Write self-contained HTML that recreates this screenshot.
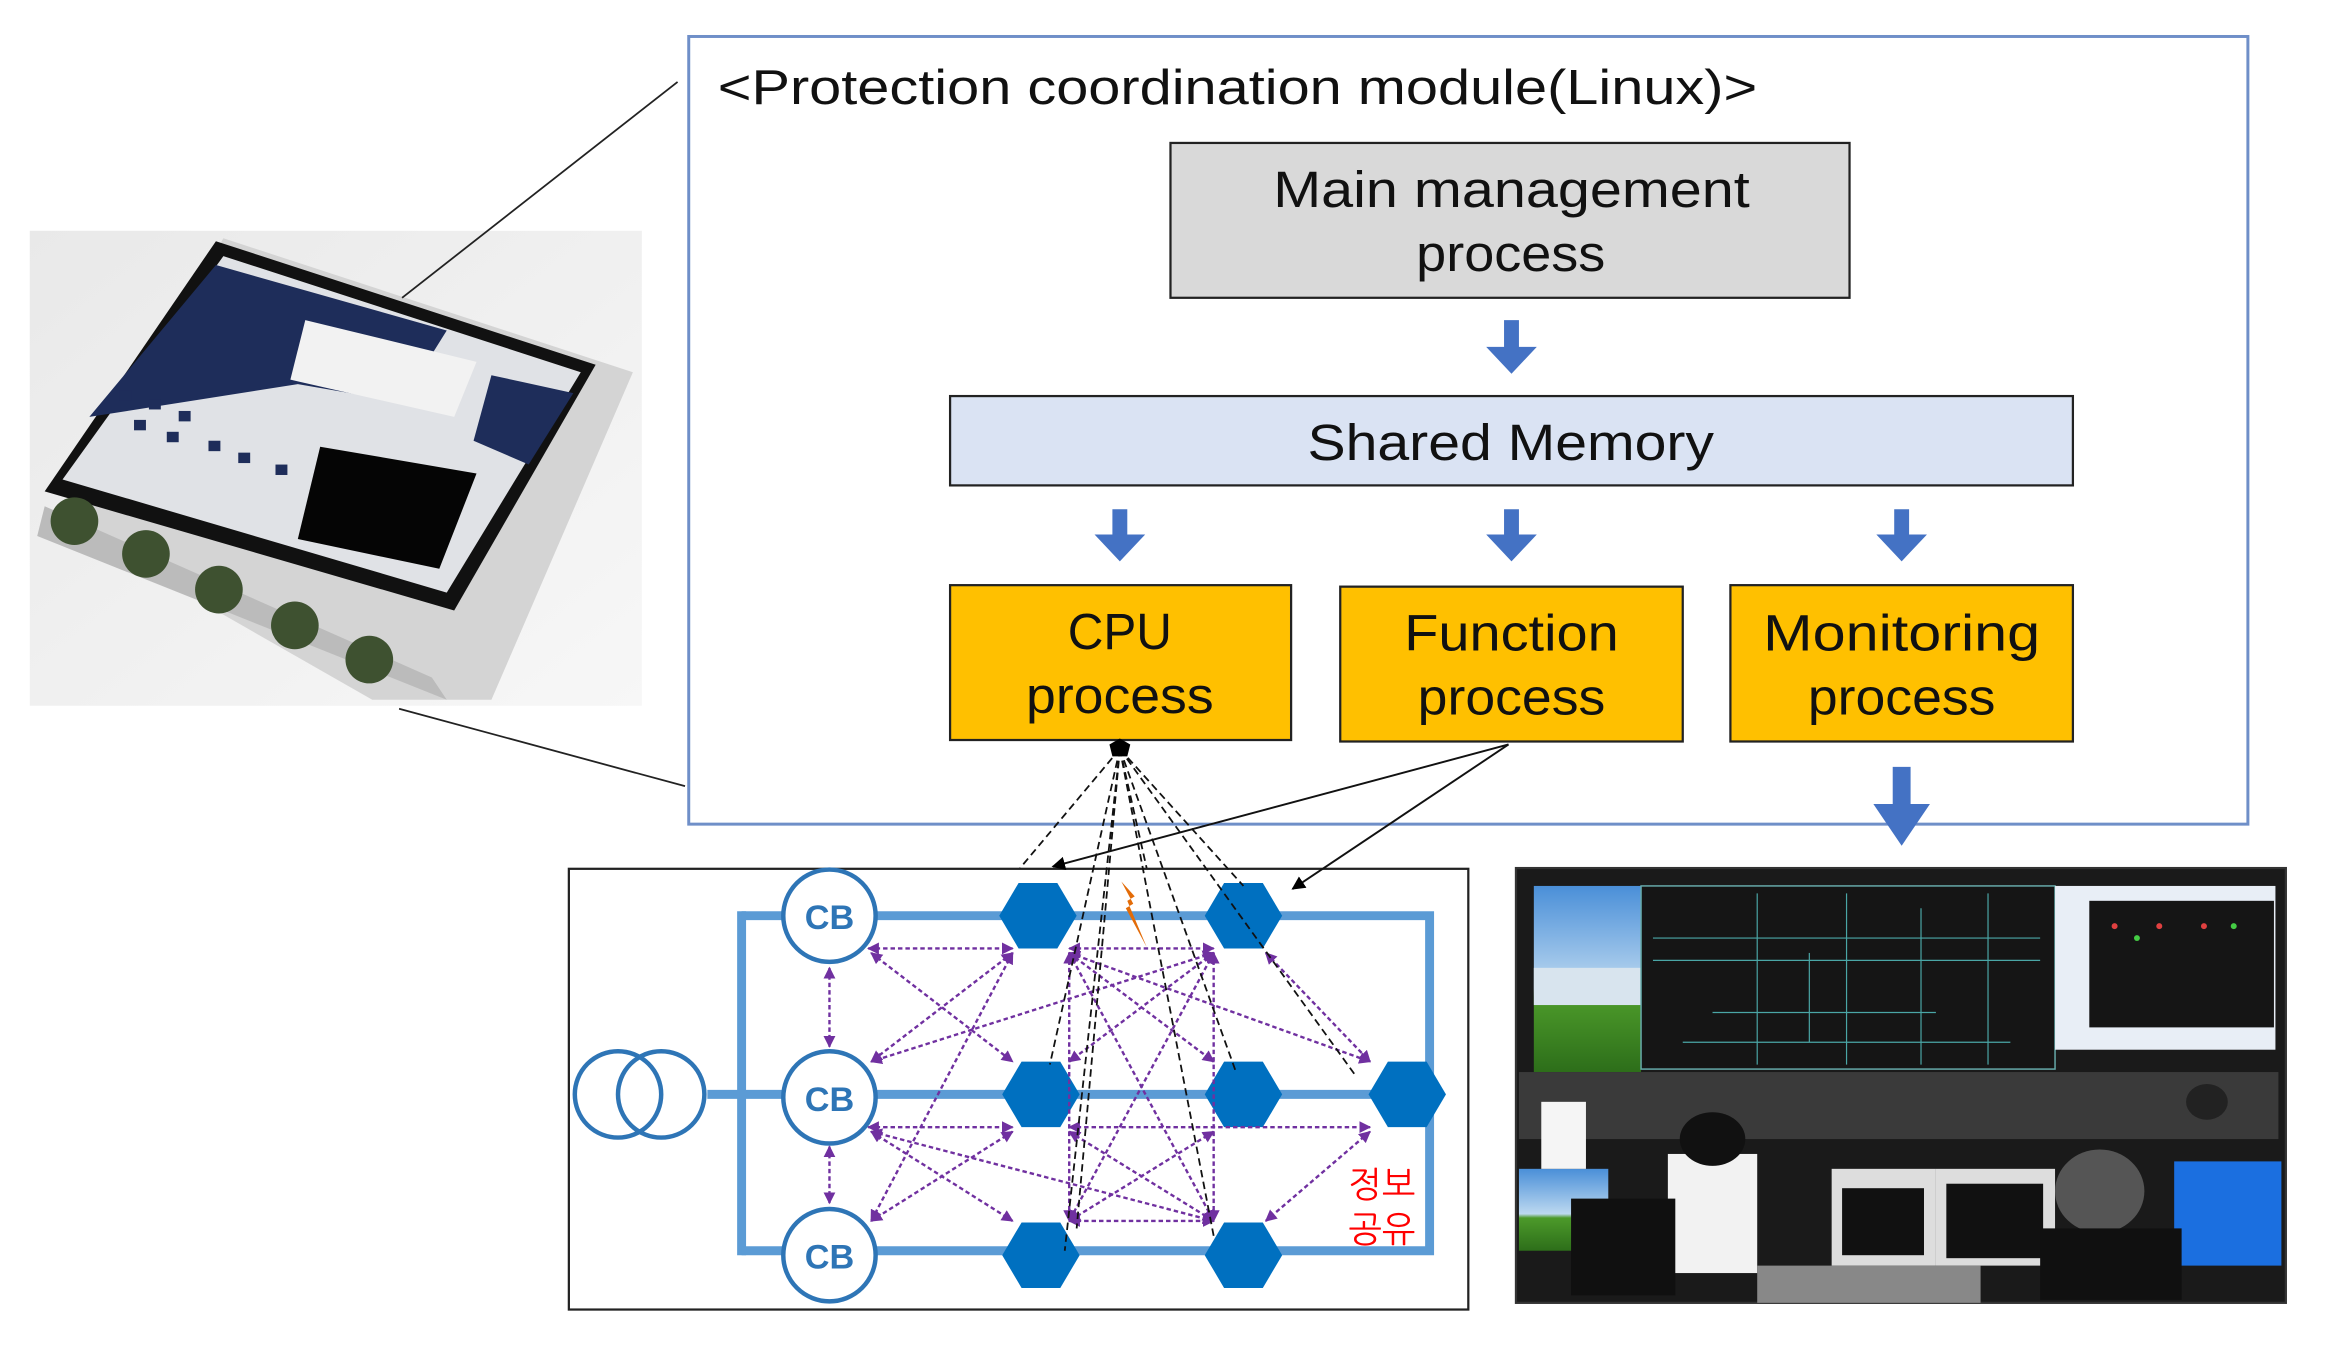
<!DOCTYPE html>
<html><head><meta charset="utf-8"><style>
html,body{margin:0;padding:0;background:#fff;}
svg{display:block;}
text{font-family:"Liberation Sans","NanumGothic",sans-serif;}
</style></head><body>
<svg width="2335" height="1349" viewBox="0 0 1568 906" preserveAspectRatio="none" xmlns="http://www.w3.org/2000/svg">
<defs>
<linearGradient id="bg1" x1="0" y1="0" x2="1" y2="1"><stop offset="0" stop-color="#e9e9e9"/><stop offset="1" stop-color="#f7f7f7"/></linearGradient>
<linearGradient id="sky" x1="0" y1="0" x2="0" y2="1"><stop offset="0" stop-color="#4a8fd8"/><stop offset="0.55" stop-color="#bcd8f0"/><stop offset="0.6" stop-color="#4c9a2a"/><stop offset="1" stop-color="#2d6e1a"/></linearGradient>
<marker id="ap" viewBox="0 0 10 10" refX="9" refY="5" markerWidth="5" markerHeight="5" orient="auto-start-reverse"><path d="M0,0 L10,5 L0,10 z" fill="#7030a0"/></marker>
<marker id="ab" viewBox="0 0 10 10" refX="9" refY="5" markerWidth="7" markerHeight="7" orient="auto"><path d="M0,0 L10,5 L0,10 z" fill="#000"/></marker>
</defs>

<!-- device photo -->
<rect x="20" y="155" width="411" height="319" fill="url(#bg1)"/>
<polygon points="40,350 150,160 425,250 330,470 250,470" fill="#d4d4d4"/>
<polygon points="30,330 145,162 400,245 305,410" fill="#111"/>
<polygon points="42,322 150,172 390,250 300,398" fill="#e0e2e6"/>
<polygon points="60,280 145,178 300,222 270,270 200,258" fill="#1e2d5a"/>
<polygon points="205,215 320,243 305,280 195,255" fill="#f2f2f2"/>
<polygon points="330,252 385,264 355,312 318,296" fill="#1e2d5a"/>
<polygon points="215,300 320,318 295,382 200,362" fill="#050505"/>
<polygon points="30,340 290,455 300,470 25,360" fill="#bbb"/>
<g fill="#3e5130"><circle cx="50" cy="350" r="16"/><circle cx="98" cy="372" r="16"/><circle cx="147" cy="396" r="16"/><circle cx="198" cy="420" r="16"/><circle cx="248" cy="443" r="16"/></g>
<g fill="#1e2d5a"><rect x="80" y="262" width="8" height="7"/><rect x="100" y="268" width="8" height="7"/><rect x="120" y="276" width="8" height="7"/><rect x="90" y="282" width="8" height="7"/><rect x="112" y="290" width="8" height="7"/><rect x="140" y="296" width="8" height="7"/><rect x="160" y="304" width="8" height="7"/><rect x="185" y="312" width="8" height="7"/></g>
<line x1="270" y1="200" x2="455" y2="55" stroke="#222" stroke-width="1.2"/>
<line x1="268" y1="476" x2="460" y2="528" stroke="#222" stroke-width="1.2"/>

<!-- module box -->
<rect x="462.5" y="24.5" width="1047" height="529" fill="#fff" stroke="#6f8fc8" stroke-width="2"/>
<text x="482" y="70" font-size="33" fill="#111" textLength="698" lengthAdjust="spacingAndGlyphs">&lt;Protection coordination module(Linux)&gt;</text>
<rect x="786" y="96" width="456" height="104" fill="#d9d9d9" stroke="#222" stroke-width="1.5"/>
<text x="855" y="139" font-size="34" fill="#111" textLength="320" lengthAdjust="spacingAndGlyphs">Main management</text>
<text x="951" y="182" font-size="34" fill="#111" textLength="127" lengthAdjust="spacingAndGlyphs">process</text>
<rect x="638" y="266" width="754" height="60" fill="#dae3f3" stroke="#222" stroke-width="1.5"/>
<text x="878" y="309" font-size="34" fill="#111" textLength="273" lengthAdjust="spacingAndGlyphs">Shared Memory</text>
<g fill="#ffc000" stroke="#222" stroke-width="1.5">
<rect x="638" y="393" width="229" height="104"/><rect x="900" y="394" width="230" height="104"/><rect x="1162" y="393" width="230" height="105"/></g>
<g font-size="34" fill="#111" lengthAdjust="spacingAndGlyphs">
<text x="717" y="436" textLength="70" lengthAdjust="spacingAndGlyphs">CPU</text><text x="689" y="479" textLength="126" lengthAdjust="spacingAndGlyphs">process</text>
<text x="943" y="437" textLength="144" lengthAdjust="spacingAndGlyphs">Function</text><text x="952" y="480" textLength="126" lengthAdjust="spacingAndGlyphs">process</text>
<text x="1184" y="437" textLength="186" lengthAdjust="spacingAndGlyphs">Monitoring</text><text x="1214" y="480" textLength="126" lengthAdjust="spacingAndGlyphs">process</text></g>
<g fill="#4472c4">
<polygon points="1010,215 1020,215 1020,233 1032,233 1015,251 998,233 1010,233"/>
<polygon points="747,342 757,342 757,359 769,359 752,377 735,359 747,359"/>
<polygon points="1010,342 1020,342 1020,359 1032,359 1015,377 998,359 1010,359"/>
<polygon points="1272,342 1282,342 1282,359 1294,359 1277,377 1260,359 1272,359"/>
<polygon points="1271,515 1283,515 1283,540 1296,540 1277,568 1258,540 1271,540"/>
</g>

<!-- network box -->
<rect x="382" y="583.5" width="604" height="296" fill="#fff" stroke="#222" stroke-width="1.5"/>
<g stroke="#5b9bd5" stroke-width="6" fill="none">
<polyline points="588,615 960,615 960,840 588,840"/>
<line x1="498" y1="612" x2="498" y2="843"/>
<line x1="498" y1="615" x2="527" y2="615"/><line x1="498" y1="840" x2="527" y2="840"/>
<line x1="475" y1="735" x2="527" y2="735"/><line x1="588" y1="735" x2="945" y2="735"/>
</g>
<g stroke="#2e75b6" stroke-width="3" fill="#fff">
<circle cx="415" cy="735" r="29" fill="none"/><circle cx="444" cy="735" r="29" fill="none"/>
<circle cx="557" cy="615" r="31"/><circle cx="557" cy="737" r="31"/><circle cx="557" cy="843" r="31"/></g>
<g font-size="23" font-weight="bold" fill="#2e75b6" text-anchor="middle"><text x="557" y="624">CB</text><text x="557" y="746">CB</text><text x="557" y="852">CB</text></g>
<g fill="#0070c0">
<polygon points="671,615 684,593 710,593 723,615 710,637 684,637"/>
<polygon points="809,615 822,593 848,593 861,615 848,637 822,637"/>
<polygon points="673,735 686,713 712,713 725,735 712,757 686,757"/>
<polygon points="809,735 822,713 848,713 861,735 848,757 822,757"/>
<polygon points="919,735 932,713 958,713 971,735 958,757 932,757"/>
<polygon points="673,843 686,821 712,821 725,843 712,865 686,865"/>
<polygon points="809,843 822,821 848,821 861,843 848,865 822,865"/>
</g>
<g stroke="#7030a0" stroke-width="1.6" stroke-dasharray="3,2" fill="none" marker-start="url(#ap)" marker-end="url(#ap)">
<line x1="583" y1="637" x2="680" y2="637"/><line x1="718" y1="637" x2="815" y2="637"/>
<line x1="583" y1="757" x2="680" y2="757"/><line x1="718" y1="757" x2="920" y2="757"/>
<line x1="718" y1="820" x2="815" y2="820"/>
<line x1="557" y1="650" x2="557" y2="703"/><line x1="557" y1="770" x2="557" y2="808"/>
<line x1="585" y1="640" x2="680" y2="713"/><line x1="680" y1="640" x2="585" y2="713"/>
<line x1="585" y1="760" x2="680" y2="820"/><line x1="680" y1="760" x2="585" y2="820"/>
<line x1="815" y1="640" x2="585" y2="713"/><line x1="680" y1="640" x2="585" y2="820"/>
<line x1="718" y1="640" x2="815" y2="713"/><line x1="815" y1="640" x2="718" y2="713"/>
<line x1="718" y1="640" x2="815" y2="820"/><line x1="815" y1="640" x2="718" y2="820"/>
<line x1="718" y1="640" x2="718" y2="820"/><line x1="815" y1="640" x2="815" y2="820"/>
<line x1="718" y1="640" x2="920" y2="713"/><line x1="850" y1="640" x2="920" y2="713"/>
<line x1="718" y1="760" x2="815" y2="820"/><line x1="815" y1="760" x2="718" y2="820"/>
<line x1="585" y1="760" x2="815" y2="820"/><line x1="920" y1="760" x2="850" y2="820"/>
</g>
<g stroke="#111" stroke-width="1.2" stroke-dasharray="5,3" fill="none">
<line x1="752" y1="503" x2="685" y2="583"/><line x1="752" y1="503" x2="705" y2="715"/>
<line x1="752" y1="503" x2="715" y2="840"/><line x1="752" y1="503" x2="723" y2="825"/>
<line x1="752" y1="503" x2="815" y2="830"/><line x1="752" y1="503" x2="830" y2="720"/>
<line x1="752" y1="503" x2="835" y2="595"/><line x1="752" y1="503" x2="910" y2="722"/>
<line x1="752" y1="503" x2="770" y2="583"/>
</g>
<polygon points="745,500 752,496 759,500 757,508 747,508" fill="#000"/>
<g stroke="#111" stroke-width="1.3" fill="none" marker-end="url(#ab)">
<line x1="1013" y1="500" x2="707" y2="582"/><line x1="1013" y1="500" x2="868" y2="597"/></g>
<polygon points="753,592 762,602 757,605 770,636 756,610 761,607" fill="#e36c09"/>
<text x="928" y="804" font-size="24" fill="#ff0000" text-anchor="middle">정보</text>
<text x="928" y="834" font-size="24" fill="#ff0000" text-anchor="middle">공유</text>

<!-- control room photo -->
<rect x="1018" y="583" width="517" height="292" fill="#1a1a1a" stroke="#333" stroke-width="1.5"/>
<rect x="1030" y="595" width="72" height="125" fill="url(#sky)"/>
<rect x="1030" y="650" width="72" height="25" fill="#d8e4ee"/>
<rect x="1102" y="595" width="278" height="123" fill="#151515" stroke="#6aa" stroke-width="1"/>
<g stroke="#4aa6a6" stroke-width="0.8" fill="none">
<line x1="1110" y1="630" x2="1370" y2="630"/><line x1="1110" y1="645" x2="1370" y2="645"/>
<line x1="1150" y1="680" x2="1300" y2="680"/><line x1="1130" y1="700" x2="1350" y2="700"/>
<line x1="1180" y1="600" x2="1180" y2="715"/><line x1="1240" y1="600" x2="1240" y2="715"/>
<line x1="1290" y1="610" x2="1290" y2="715"/><line x1="1335" y1="600" x2="1335" y2="715"/>
<line x1="1215" y1="640" x2="1215" y2="700"/></g>
<rect x="1380" y="595" width="148" height="110" fill="#e8eef6"/>
<rect x="1403" y="605" width="124" height="85" fill="#151515"/>
<g fill="#e04040"><circle cx="1420" cy="622" r="2"/><circle cx="1450" cy="622" r="2"/><circle cx="1480" cy="622" r="2"/></g>
<g fill="#4c4"><circle cx="1435" cy="630" r="2"/><circle cx="1500" cy="622" r="2"/></g>
<rect x="1020" y="720" width="510" height="45" fill="#3a3a3a"/>
<rect x="1020" y="785" width="60" height="55" fill="url(#sky)"/>
<rect x="1230" y="785" width="70" height="65" fill="#ddd"/><rect x="1237" y="798" width="55" height="45" fill="#111"/>
<rect x="1300" y="785" width="80" height="65" fill="#ddd"/><rect x="1307" y="795" width="65" height="50" fill="#111"/>
<rect x="1460" y="780" width="72" height="70" fill="#1b6fe0"/>
<rect x="1035" y="740" width="30" height="45" fill="#f5f5f5"/>
<rect x="1120" y="775" width="60" height="80" fill="#f2f2f2"/>
<ellipse cx="1150" cy="765" rx="22" ry="18" fill="#111"/>
<ellipse cx="1410" cy="800" rx="30" ry="28" fill="#555"/>
<ellipse cx="1482" cy="740" rx="14" ry="12" fill="#222"/>
<rect x="1055" y="805" width="70" height="65" fill="#101010"/>
<rect x="1370" y="825" width="95" height="48" fill="#101010"/>
<rect x="1180" y="850" width="150" height="25" fill="#888"/>
</svg>
</body></html>
